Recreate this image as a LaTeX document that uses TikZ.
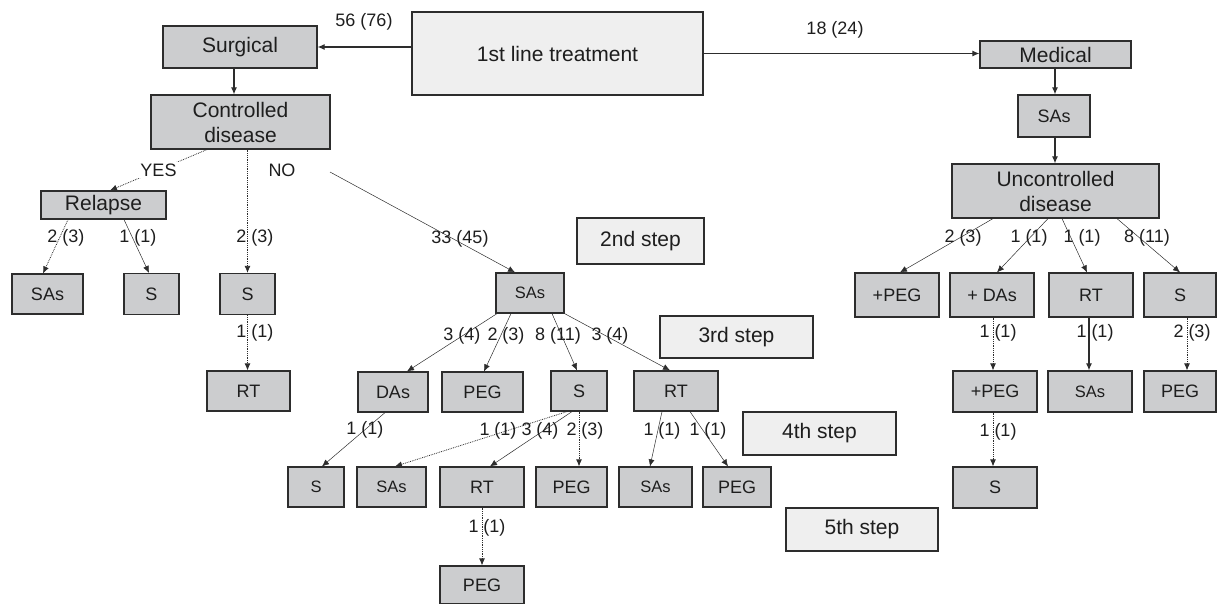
\documentclass[tikz,border=0pt]{standalone}
\usepackage{fontspec}
\setmainfont{Liberation Sans}
\usetikzlibrary{arrows.meta,calc}
\definecolor{boxgray}{RGB}{204,205,207}
\definecolor{stepgray}{RGB}{239,239,239}
\definecolor{edgecol}{RGB}{45,45,45}
\definecolor{txtcol}{RGB}{30,30,30}
\begin{document}
\begin{tikzpicture}[x=1pt,y=-1pt,
  box/.style={draw=edgecol, fill=boxgray, line width=1.2pt, inner sep=0pt, text=txtcol, font=\fontsize{18}{21}\selectfont},
  sm/.style={font=\fontsize{16.5}{20}\selectfont},
  big/.style={font=\fontsize{21}{25}\selectfont},
  stepbox/.style={box, fill=stepgray, big},
  lbl/.style={text=txtcol, font=\fontsize{18}{21}\selectfont, inner sep=0pt},
  arr/.style={-{Latex[length=7pt,width=6pt]}, draw=edgecol},
  solidc/.style={arr, line width=1.1pt},
  thinc/.style={arr, line width=0.5pt},
  dotc/.style={arr, line width=0.8pt, densely dotted}]
\useasboundingbox (0,0) rectangle (1218,604);
% ---- top level
\node[box,big,fill=stepgray,minimum width=291pt,minimum height=83pt] (first) at (557.5,53.5) {1st line treatment};
\node[box,big,minimum width=154pt,minimum height=42pt] (surg) at (240,47) {Surgical};
\node[box,big,minimum width=151pt,minimum height=27pt] (med) at (1055.5,54.5) {Medical};
% ---- surgical branch
\node[box,big,align=center,minimum width=179pt,minimum height=54pt] (ctrl) at (240.5,122) {Controlled\\disease};
\node[box,big,minimum width=125pt,minimum height=28pt] (relapse) at (103.5,205) {Relapse};
\node[box,minimum width=71pt,minimum height=40pt] (sasL) at (47.5,294) {SAs};
\node[box,minimum width=55pt,minimum height=41pt] (sL) at (151.5,294) {S};
\node[box,minimum width=55pt,minimum height=41pt] (sM) at (247.5,294) {S};
\node[box,minimum width=83pt,minimum height=40pt] (rtM) at (248.5,391) {RT};
\node[box,sm,minimum width=68pt,minimum height=40pt] (sas2) at (530,293) {SAs};
\node[box,minimum width=70pt,minimum height=40pt] (das) at (393,392) {DAs};
\node[box,minimum width=81pt,minimum height=40pt] (peg3) at (482.5,392) {PEG};
\node[box,minimum width=56pt,minimum height=40pt] (s3) at (579,391) {S};
\node[box,minimum width=84pt,minimum height=40pt] (rt3) at (676,391) {RT};
\node[box,sm,minimum width=56pt,minimum height=40pt] (s4) at (316,487) {S};
\node[box,sm,minimum width=69pt,minimum height=40pt] (sas4) at (391.5,487) {SAs};
\node[box,minimum width=84pt,minimum height=40pt] (rt4) at (482,487) {RT};
\node[box,minimum width=71pt,minimum height=40pt] (peg4) at (571.5,487) {PEG};
\node[box,sm,minimum width=73pt,minimum height=40pt] (sas4b) at (655.5,487) {SAs};
\node[box,minimum width=68pt,minimum height=40pt] (peg4b) at (737,487) {PEG};
\node[box,minimum width=84pt,minimum height=38pt] (peg5) at (482,585) {PEG};
% ---- step boxes
\node[stepbox,minimum width=127pt,minimum height=46pt] (step2) at (640.5,241) {2nd step};
\node[stepbox,minimum width=153pt,minimum height=42pt] (step3) at (736.5,337) {3rd step};
\node[stepbox,minimum width=153pt,minimum height=43pt] (step4) at (819.5,433.5) {4th step};
\node[stepbox,minimum width=152pt,minimum height=43pt] (step5) at (862,529.5) {5th step};
% ---- medical branch
\node[box,minimum width=72pt,minimum height=42pt] (sasR) at (1054,116) {SAs};
\node[box,big,align=center,minimum width=207pt,minimum height=54pt] (unc) at (1055.5,191) {Uncontrolled\\disease};
\node[box,minimum width=84pt,minimum height=44pt] (pegR) at (897,295) {+PEG};
\node[box,minimum width=84pt,minimum height=44pt] (dasR) at (992,295) {+ DAs};
\node[box,minimum width=84pt,minimum height=44pt] (rtR) at (1091,295) {RT};
\node[box,minimum width=72pt,minimum height=44pt] (sR) at (1180,295) {S};
\node[box,minimum width=84pt,minimum height=41pt] (pegR2) at (995,391.5) {+PEG};
\node[box,sm,minimum width=84pt,minimum height=41pt] (sasR2) at (1090,391.5) {SAs};
\node[box,minimum width=72pt,minimum height=41pt] (pegR3) at (1180,391.5) {PEG};
\node[box,minimum width=84pt,minimum height=41pt] (sR2) at (995,487.5) {S};
% ---- connectors: top
\draw[solidc] ([yshift=6.5pt]first.west) -- (surg.east);
\draw[solidc] (first.east) -- (first.east -| med.west);
\draw[solidc] ([xshift=-6pt]surg.south) -- ([xshift=-6pt]surg.south |- ctrl.north);
\draw[dotc] ([xshift=-33.5pt]ctrl.south) -- node[lbl,fill=white,inner sep=2pt] (yes) {YES} ([xshift=6.5pt]relapse.north);
\node[lbl] (no) at (282,170) {NO};
\coordinate (nostart) at (330,172);
\draw[thinc] (nostart) -- ([xshift=-15pt]sas2.north);
\draw[dotc] (sM.north |- ctrl.south) -- (sM.north);
\draw[dotc] ([xshift=-35.5pt]relapse.south) -- ([xshift=-4.5pt]sasL.north);
\draw[thinc] ([xshift=20.5pt]relapse.south) -- ([xshift=-2.5pt]sL.north);
\draw[dotc] (sM.south) -- (sM.south |- rtM.north);
% ---- SAs (2nd step) children
\draw[thinc] ([xshift=-33pt]sas2.south) -- ([xshift=14pt]das.north);
\draw[thinc] ([xshift=-19pt]sas2.south) -- ([xshift=1.5pt]peg3.north);
\draw[thinc] ([xshift=22pt]sas2.south) -- ([xshift=-2pt]s3.north);
\draw[thinc] (sas2.south east) -- ([xshift=-6pt]rt3.north);
% ---- 3rd -> 4th
\draw[thinc] ([xshift=-8pt]das.south) -- ([xshift=6pt]s4.north);
\draw[dotc] ([xshift=-12pt]s3.south) -- ([xshift=3.5pt]sas4.north);
\draw[thinc] ([xshift=-7pt]s3.south) -- ([xshift=8pt]rt4.north);
\draw[dotc] (s3.south) -- (s3.south |- peg4.north);
\draw[thinc] ([xshift=-14pt]rt3.south) -- ([xshift=-5.5pt]sas4b.north);
\draw[thinc] ([xshift=14pt]rt3.south) -- ([xshift=-9pt]peg4b.north);
\draw[dotc] (rt4.south) -- (peg5.north);
% ---- medical connectors
\draw[solidc] ([xshift=-0.5pt]med.south) -- ([xshift=-0.5pt]med.south |- sasR.north);
\draw[solidc] ([xshift=1pt]sasR.south) -- ([xshift=1pt]sasR.south |- unc.north);
\draw[thinc] ([xshift=-62.5pt]unc.south) -- ([xshift=3pt]pegR.north);
\draw[thinc] ([xshift=-7.5pt]unc.south) -- ([xshift=5pt]dasR.north);
\draw[thinc] ([xshift=6.5pt]unc.south) -- ([xshift=-4pt]rtR.north);
\draw[thinc] ([xshift=61.5pt]unc.south) -- (sR.north);
\draw[dotc] ([xshift=1pt]dasR.south) -- ([xshift=1pt]dasR.south |- pegR2.north);
\draw[solidc] ([xshift=-2pt]rtR.south) -- ([xshift=-2pt]rtR.south |- sasR2.north);
\draw[dotc] ([xshift=7pt]sR.south) -- ([xshift=7pt]sR.south |- pegR3.north);
\draw[dotc] ([xshift=-2pt]pegR2.south) -- ([xshift=-2pt]pegR2.south |- sR2.north);
% ---- labels
\node[lbl] (l1) at (364,22) {56 (76)};
\node[lbl] (l2) at (835,30) {18 (24)};
\node[lbl] (l3) at (460,239) {33 (45)};
\node[lbl] (l4) at (255,238) {2 (3)};
\node[lbl] (l5) at (66,238) {2 (3)};
\node[lbl] (l6) at (138,238) {1 (1)};
\node[lbl] (l7) at (255,333) {1 (1)};
\node[lbl] (l8) at (462,336) {3 (4)};
\node[lbl] (l9) at (506,336) {2 (3)};
\node[lbl] (l10) at (558,336) {8 (11)};
\node[lbl] (l11) at (610,336) {3 (4)};
\node[lbl] (l12) at (365,430) {1 (1)};
\node[lbl] (l13) at (498,431) {1 (1)};
\node[lbl] (l14) at (540,431) {3 (4)};
\node[lbl] (l15) at (585,431) {2 (3)};
\node[lbl] (l16) at (662,431) {1 (1)};
\node[lbl] (l17) at (708,431) {1 (1)};
\node[lbl] (l18) at (487,528) {1 (1)};
\node[lbl] (l19) at (963,238) {2 (3)};
\node[lbl] (l20) at (1029,238) {1 (1)};
\node[lbl] (l21) at (1082,238) {1 (1)};
\node[lbl] (l22) at (1147,238) {8 (11)};
\node[lbl] (l23) at (998,333) {1 (1)};
\node[lbl] (l24) at (1095,333) {1 (1)};
\node[lbl] (l25) at (1192,333) {2 (3)};
\node[lbl] (l26) at (998,432) {1 (1)};
\end{tikzpicture}
\end{document}
